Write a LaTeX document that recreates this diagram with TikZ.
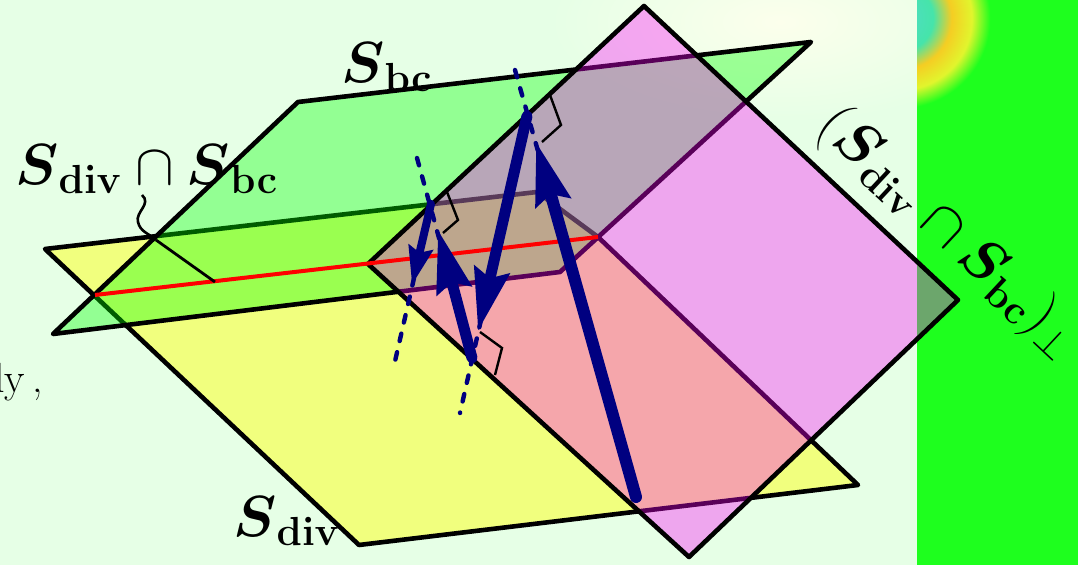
\RequirePackage{fix-cm}
\documentclass[tikz,border=0pt]{standalone}
\usepackage{amsmath, amssymb}
\usepackage{tikz}
\usetikzlibrary{positioning, arrows.meta, calc}

\definecolor{bgcol}{RGB}{230,255,230}
\definecolor{haze}{RGB}{252,255,236}
\definecolor{stripcol}{RGB}{30,255,30}
\definecolor{vecblue}{RGB}{0,0,128}
\definecolor{divcol}{RGB}{255,255,0}
\definecolor{bccol}{RGB}{0,255,0}
\definecolor{perpcol}{RGB}{255,0,255}
\definecolor{blobA}{RGB}{80,220,200}
\definecolor{blobB}{RGB}{70,228,170}
\definecolor{blobD}{RGB}{245,205,35}
\definecolor{blobE}{RGB}{225,245,45}

\pgfdeclareradialshading{heatblob}{\pgfpointorigin}{color(0bp)=(blobA); color(9bp)=(blobB); color(14bp)=(blobD); color(19.5bp)=(blobE); color(24.5bp)=(stripcol); color(50bp)=(stripcol)}

\newcommand{\Sdiv}{\boldsymbol{S}_{\mathbf{div}}}
\newcommand{\Sbc}{\boldsymbol{S}_{\mathbf{bc}}}

\begin{document}
\begin{tikzpicture}[
    x=0.5pt, y=-0.5pt,
    planeface/.style={draw=black, line width=2.3pt, line join=round},
    normalline/.style={vecblue, line width=2.2pt, line cap=round, dash pattern=on 3.8pt off 5.7pt},
    vecarrow/.style={vecblue, line width=5.5pt, line cap=round, -{Stealth[length=31pt, width=17.5pt, inset=4pt]}},
    rightangle/.style={black, line width=1.2pt},
    lbl/.style={inner sep=0pt, font=\fontsize{29}{34}\selectfont}
]
\useasboundingbox (0,0) rectangle (1078,565);

% Background and the cut-off plot on the right
\fill[bgcol] (0,0) rectangle (917,565);
\shade[inner color=haze, outer color=bgcol] (780,22) ellipse (230 and 100);
\fill[stripcol] (917,0) rectangle (1078,565);
\begin{scope}
    \clip (917,0) rectangle (1078,565);
    \shade[shading=heatblob] (900,18) circle (92);
\end{scope}

% Corner points
\coordinate (Y1) at (45,249);
\coordinate (Y2) at (359,545);
\coordinate (Y3) at (858,485);
\coordinate (Y4) at (537,192);
\coordinate (G1) at (53,334);
\coordinate (G2) at (560,272);
\coordinate (G3) at (811,42);
\coordinate (G4) at (298,102);
\coordinate (M1) at (368,264);
\coordinate (M2) at (689,557);
\coordinate (M3) at (958,300);
\coordinate (M4) at (644,6);
\coordinate (I1) at (95,295);
\coordinate (I2) at (598,237);

% S_div (yellow)
\filldraw[planeface, fill=divcol, fill opacity=0.45] (Y1) -- (Y2) -- (Y3) -- (I2) -- (Y4) -- cycle;

% S_bc (green)
\filldraw[planeface, fill=bccol, fill opacity=0.36] (G1) -- (G2) -- (G3) -- (G4) -- cycle;

% Perpendicular plane (magenta)
\filldraw[planeface, fill=perpcol, fill opacity=0.35] (M1) -- (M2) -- (M3) -- (M4) -- cycle;

% Intersection line
\draw[red, line width=2pt] (I1) -- (I2);

% Points for the normals
\coordinate (P1) at (431,204);
\coordinate (Q1) at (472,358);
\coordinate (P2) at (527,116);
\coordinate (R) at (636,497);
\coordinate (At) at (417,158);
\coordinate (Bend) at (393,370);
\coordinate (Ct) at (515,70);
\coordinate (Dend) at (460,413);
\coordinate (t1) at (412,285);
\coordinate (t2) at (438,230);
\coordinate (t3) at (478,331);
\coordinate (t4) at (536,142);

% Dashed normal lines
\draw[normalline] (At) -- (Q1);
\draw[normalline] (P1) -- (Bend);
\draw[normalline] (Ct) -- (R);
\draw[normalline] (P2) -- (Dend);

% Right-angle marks
\draw[rightangle] (447,192) -- (458,220) -- (443,233);
\draw[rightangle] (550,95) -- (561,125) -- (542,142);
\draw[rightangle] (480,332) -- (502,348) -- (495,375);

% Vectors
\draw[vecarrow, line width=4pt, -{Stealth[length=19pt, width=12pt, inset=2.5pt]}] (P1) -- (t1);
\draw[vecarrow] (Q1) -- (t2);
\draw[vecarrow] (P2) -- (t3);
\draw[vecarrow, line width=6pt] (R) -- (t4);

% Labels
\node[lbl, anchor=base west] (lbltop) at (341,83) {$\Sbc$};
\node[lbl, anchor=base west] (lblcap) at (15,185) {$\Sdiv\cap\Sbc$};
\node[lbl, anchor=base west] (lblbot) at (233,537) {$\Sdiv$};
\node[lbl, anchor=base west, rotate=-43] (lblperp) at (815,128) {$(\Sdiv\cap\Sbc)_{\perp}$};
\node[inner sep=0pt, anchor=base west, font=\fontsize{21}{25}\selectfont] (lblly) at (-6,393) {ly\,,};

% Pointer from the label to the intersection line
\coordinate (Ann) at (156,240);
\coordinate (Pn) at (215,282);
\draw[line width=1.3pt] (142,195) .. controls (152,204) and (135,212) .. (138,222)
    .. controls (140,232) and (150,234) .. (Ann);
\draw[line width=1.4pt] (Ann) -- (Pn);

\end{tikzpicture}
\end{document}
